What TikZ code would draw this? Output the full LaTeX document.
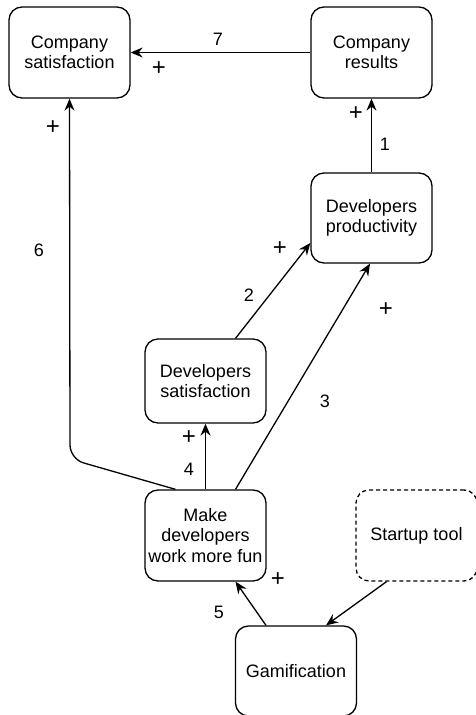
\documentclass[tikz,border=0pt]{standalone}
\usepackage{fontspec}
\setmainfont{Liberation Sans}
\usetikzlibrary{arrows.meta}

\begin{document}
\begin{tikzpicture}[x=1pt,y=-1pt,line width=1.3pt,>={Stealth[length=12pt,width=10pt,inset=4pt]},
		blk/.style={draw,rounded corners=13pt,minimum width=121pt,minimum height=91pt,align=center,inner sep=1pt,font=\fontsize{18}{20.5}\selectfont},
		lbl/.style={inner sep=0pt,font=\fontsize{18}{20}\selectfont},
		sgn/.style={inner sep=0pt,font=\fontsize{24}{24}\selectfont}]
		\useasboundingbox (0,0) rectangle (476,715);
		\node[blk] (csat) at (69.5,52.5) {Company\\satisfaction};
		\node[blk] (cres) at (371.5,52.5) {Company\\results};
		\node[blk,minimum height=90pt] (dprod) at (371.5,218) {Developers\\productivity};
		\node[blk,minimum height=84pt] (dsat) at (205.5,381) {Developers\\satisfaction};
		\node[blk] (fun) at (205.5,535.5) {Make\\developers\\work more fun};
		\node[blk,dashed,dash pattern=on 4pt off 3pt] (tool) at (416.5,535.5) {Startup tool};
		\node[blk,minimum height=90pt] (gam) at (296,671) {Gamification};
		\coordinate (bend) at (70,459);
		\draw[->] (cres.west) -- (csat.east);
		\draw[->] (dprod.north) -- (cres.south);
		\draw[->] ([xshift=30pt]dsat.north) -- ([yshift=-25pt]dprod.west);
		\draw[->] ([xshift=30pt]fun.north) -- ([xshift=-1.5pt]dprod.south);
		\draw[->] (fun.north) -- (dsat.south);
		\draw[->,rounded corners=14pt] ([xshift=-30pt]fun.north) -- (bend) -- (csat.south);
		\draw[->] ([xshift=-30pt]gam.north) -- ([xshift=30pt]fun.south);
		\draw[->] ([xshift=-30pt]tool.south) -- ([xshift=30pt]gam.north);
		% numbers and signs
		\node[lbl] (n7) at (218,39) {7};
		\node[sgn] (p7) at (159,69) {+};
		\node[lbl] (n1) at (385,144) {1};
		\node[sgn] (p1) at (356,114) {+};
		\node[lbl] (n6) at (39,250) {6};
		\node[sgn] (p6) at (53,128) {+};
		\node[lbl] (n2) at (249,295) {2};
		\node[sgn] (p2) at (280,249) {+};
		\node[lbl] (n3) at (325,401) {3};
		\node[sgn] (p3) at (386,310) {+};
		\node[lbl] (n4) at (189,469) {4};
		\node[sgn] (p4) at (189,438) {+};
		\node[lbl] (n5) at (219,612) {5};
		\node[sgn] (p5) at (278,580) {+};
	\end{tikzpicture}
\end{document}
